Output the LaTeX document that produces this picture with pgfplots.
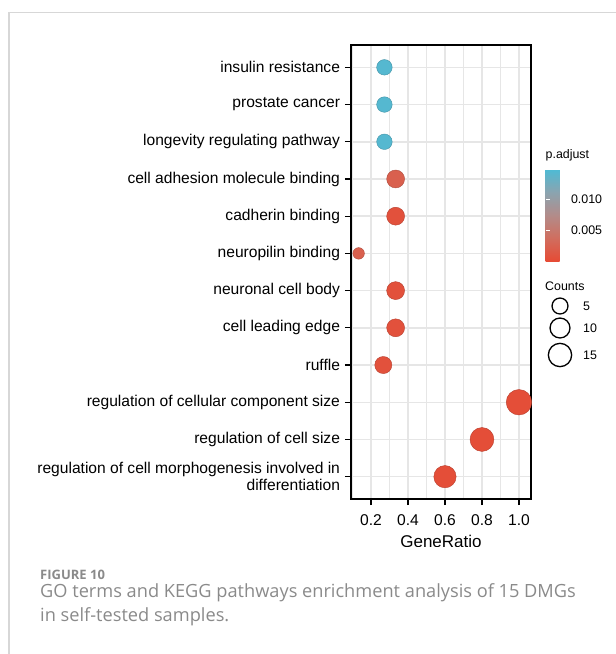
\documentclass[border=0pt]{standalone}
\usepackage{fontspec}
\setmainfont{Liberation Sans}
\newfontfamily\capfont{Open Sans}
\usepackage{pgfplots}
\pgfplotsset{compat=1.18}
\usepackage{pgfplotstable}

\definecolor{gridgray}{RGB}{230,230,230}
\definecolor{framegray}{RGB}{215,215,215}
\definecolor{capgray}{RGB}{138,138,138}

\pgfplotstableread{
x y r p
0.2727 12 7.8 0.0145
0.2727 11 7.8 0.0145
0.2727 10 7.8 0.0145
0.3333 9 9.0 0.0022
0.3333 8 9.0 0.0006
0.1333 7 5.8 0.0022
0.3333 6 9.0 0.0006
0.3333 5 9.0 0.0006
0.2667 4 8.6 0.0006
1.0 3 12.8 0.0003
0.8 2 12.0 0.0003
0.6 1 11.2 0.0003
}\dottable

\begin{document}
\begin{tikzpicture}
\path[use as bounding box] (0,0) rectangle (616bp,-654bp);
\draw[framegray, line width=1.2bp] (9bp,-654bp) -- (9bp,-12.5bp) -- (616bp,-12.5bp);
\begin{axis}[
  at={(351bp,-499bp)}, anchor=south west,
  scale only axis, width=180bp, height=454bp,
  xmin=0.092, xmax=1.065, ymin=0.4, ymax=12.6,
  xtick={0.2,0.4,0.6,0.8,1.0},
  minor xtick={0.1,0.3,0.5,0.7,0.9},
  ytick={1,2,3,4,5,6,7,8,9,10,11,12},
  yticklabels={{regulation of cell morphogenesis involved in\\differentiation}, regulation of cell size, regulation of cellular component size, ruffle, cell leading edge, neuronal cell body, neuropilin binding, cadherin binding, cell adhesion molecule binding, longevity regulating pathway, prostate cancer, insulin resistance},
  tick label style={font=\fontsize{15.6bp}{17bp}\selectfont, text=black},
  yticklabel style={align=right, xshift=-1.5bp},
  xticklabel style={yshift=-6bp, /pgf/number format/fixed, /pgf/number format/fixed zerofill, /pgf/number format/precision=1, /pgf/number format/assume math mode=true},
  grid=both,
  major grid style={color=gridgray, line width=1.5bp},
  minor grid style={color=gridgray, line width=1.5bp},
  minor tick length=0pt,
  major tick length=6bp,
  tick align=outside,
  xtick pos=lower, ytick pos=left,
  tick style={black, line width=1.1bp},
  axis line style={black, line width=1.4bp},
  xlabel={GeneRatio},
  xlabel style={font=\fontsize{17bp}{20bp}\selectfont, yshift=-3bp},
  colormap={padj}{rgb255=(230,75,53) rgb255=(208,110,95) rgb255=(178,140,138) rgb255=(138,164,176) rgb255=(77,187,213)},
  point meta min=0, point meta max=0.015,
  colorbar,
  colorbar style={
    at={(parent axis.north east)}, anchor=north west,
    xshift=6bp, yshift=-124bp,
    scale only axis, width=22bp, height=92bp,
    ytick={0.005,0.010},
    scaled y ticks=false,
    yticklabel style={font=\fontsize{12.4bp}{14bp}\selectfont, text=black, /pgf/number format/fixed, /pgf/number format/fixed zerofill, /pgf/number format/precision=3, /pgf/number format/assume math mode=true},
    axis line style={draw=none},
    major tick length=4.4bp,
    tick align=inside,
    tick style={white, line width=1bp},
    ytick pos=both, yticklabel pos=right,
    grid=none,
    title={p.adjust},
    title style={at={(0,1)}, anchor=base west, inner sep=0pt, yshift=5bp, font=\fontsize{12.4bp}{14bp}\selectfont},
  },
]
\addplot[scatter, only marks, mark=*, point meta=explicit,
  visualization depends on={\thisrow{r} \as \rr},
  scatter/@pre marker code/.append style={/tikz/mark size=\rr pt}]
  table[x=x, y=y, meta=p] {\dottable};
\end{axis}
\fill[white] (380bp,-546.8bp) rectangle (500bp,-562bp);

\begin{axis}[at={(540bp,-370bp)}, anchor=south west, scale only axis,
  width=40bp, height=90bp, xmin=0, xmax=40, ymin=-370, ymax=-280,
  hide axis, clip=false]
\addplot[only marks, mark=o, black, line width=1.3bp, mark size=8pt] coordinates {(20,-306)};
\addplot[only marks, mark=o, black, line width=1.3bp, mark size=10pt] coordinates {(20,-328)};
\addplot[only marks, mark=o, black, line width=1.3bp, mark size=11.7pt] coordinates {(20,-355)};
\node[anchor=west, inner sep=0pt, font=\fontsize{12.4bp}{14bp}\selectfont] at (axis cs:5,-286.5) {Counts};
\node[anchor=west, inner sep=0pt, font=\fontsize{12.4bp}{14bp}\selectfont] at (axis cs:43,-306) {5};
\node[anchor=west, inner sep=0pt, font=\fontsize{12.4bp}{14bp}\selectfont] at (axis cs:43,-328) {10};
\node[anchor=west, inner sep=0pt, font=\fontsize{12.4bp}{14bp}\selectfont] at (axis cs:43,-355) {15};
\end{axis}

\node[anchor=base west, inner sep=0pt, text=capgray, font=\capfont\bfseries\fontsize{13bp}{15bp}\selectfont] at (40bp,-579.3bp) {FIGURE 10};
\node[anchor=base west, inner sep=0pt, text=capgray, font=\capfont\fontsize{18.2bp}{24bp}\selectfont] at (40bp,-597.7bp) {GO terms and KEGG pathways enrichment analysis of 15 DMGs};
\node[anchor=base west, inner sep=0pt, text=capgray, font=\capfont\fontsize{18.2bp}{24bp}\selectfont] at (40bp,-621.7bp) {in self-tested samples.};
\end{tikzpicture}
\end{document}
